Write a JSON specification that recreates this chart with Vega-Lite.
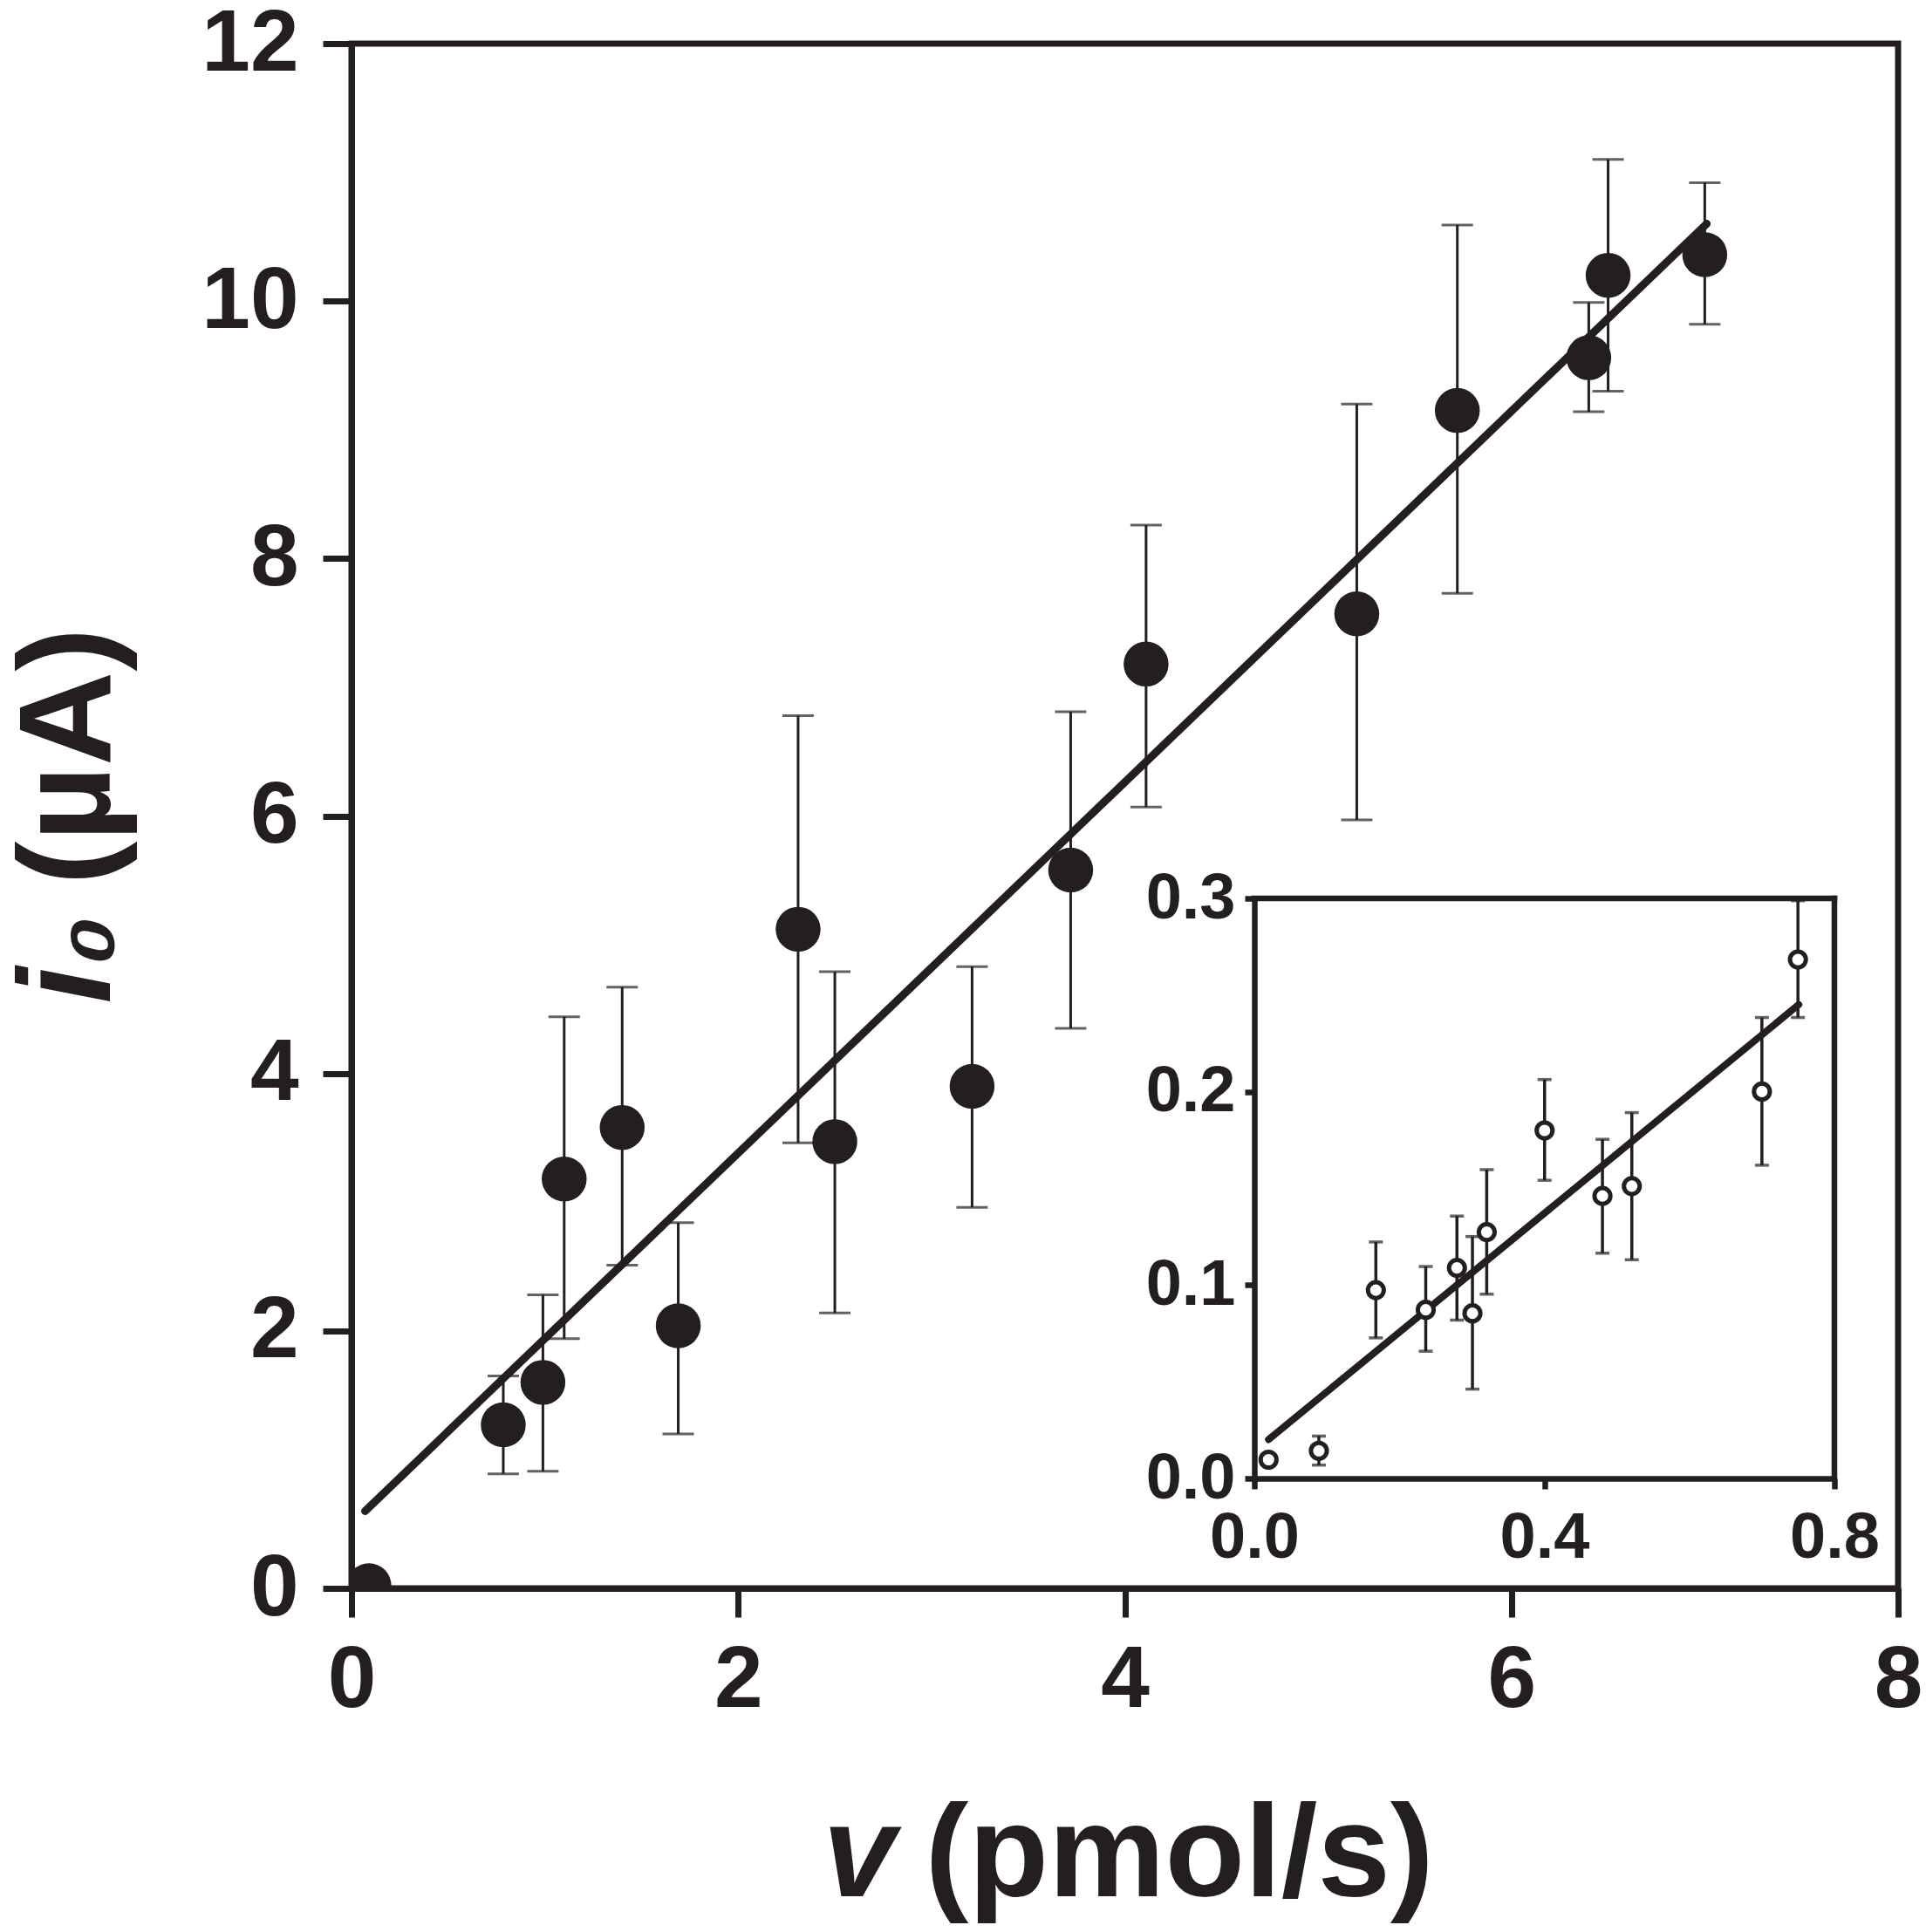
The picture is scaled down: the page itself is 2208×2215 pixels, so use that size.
{
  "$schema": "https://vega.github.io/schema/vega-lite/v6.json",
  "width": 1773,
  "height": 1771,
  "autosize": {"type": "none"},
  "padding": {"left": 403, "top": 50, "right": 32, "bottom": 394},
  "background": "white",
  "datasets": {
    "main": [
      {"v": 0.09, "i": 0.02, "lo": null, "hi": null},
      {"v": 0.785, "i": 1.27, "lo": 0.89, "hi": 1.65},
      {"v": 0.99, "i": 1.6, "lo": 0.91, "hi": 2.28},
      {"v": 1.1, "i": 3.18, "lo": 1.94, "hi": 4.44},
      {"v": 1.4, "i": 3.58, "lo": 2.51, "hi": 4.67},
      {"v": 1.69, "i": 2.04, "lo": 1.2, "hi": 2.84},
      {"v": 2.31, "i": 5.12, "lo": 3.46, "hi": 6.78},
      {"v": 2.5, "i": 3.47, "lo": 2.14, "hi": 4.79},
      {"v": 3.21, "i": 3.9, "lo": 2.96, "hi": 4.83},
      {"v": 3.72, "i": 5.58, "lo": 4.35, "hi": 6.81},
      {"v": 4.11, "i": 7.18, "lo": 6.07, "hi": 8.26},
      {"v": 5.2, "i": 7.57, "lo": 5.97, "hi": 9.2},
      {"v": 5.72, "i": 9.15, "lo": 7.73, "hi": 10.59},
      {"v": 6.4, "i": 9.56, "lo": 9.14, "hi": 9.99},
      {"v": 6.5, "i": 10.2, "lo": 9.3, "hi": 11.1},
      {"v": 7.0, "i": 10.36, "lo": 9.82, "hi": 10.92}
    ],
    "mainFit": [
      {"v": 0.07, "i": 0.6},
      {"v": 7.01, "i": 10.6}
    ],
    "inset": [
      {"v": 0.0196, "i": 0.0097, "lo": null, "hi": null},
      {"v": 0.089, "i": 0.0143, "lo": 0.0069, "hi": 0.0219},
      {"v": 0.1676, "i": 0.0974, "lo": 0.0727, "hi": 0.1223},
      {"v": 0.2364, "i": 0.0872, "lo": 0.0658, "hi": 0.1096},
      {"v": 0.2794, "i": 0.1089, "lo": 0.0819, "hi": 0.1357},
      {"v": 0.3008, "i": 0.0854, "lo": 0.0462, "hi": 0.1251},
      {"v": 0.3205, "i": 0.1274, "lo": 0.0953, "hi": 0.1597},
      {"v": 0.4003, "i": 0.18, "lo": 0.1542, "hi": 0.2063},
      {"v": 0.4801, "i": 0.1461, "lo": 0.1165, "hi": 0.1754},
      {"v": 0.5206, "i": 0.1512, "lo": 0.1131, "hi": 0.1892},
      {"v": 0.7, "i": 0.2001, "lo": 0.162, "hi": 0.2384},
      {"v": 0.7497, "i": 0.2684, "lo": 0.2384, "hi": 0.2988}
    ],
    "insetFit": [
      {"v": 0.0196, "i": 0.0201},
      {"v": 0.7509, "i": 0.2451}
    ]
  },
  "layer": [
    {
      "layer": [
        {
          "data": {"name": "main"},
          "transform": [{"filter": "datum.lo != null"}],
          "mark": {"type": "errorbar", "color": "#231f20", "thickness": 3, "ticks": {"size": 36, "thickness": 3, "color": "#231f20"}},
          "encoding": {
            "x": {"field": "v", "type": "quantitative", "title": "(pmol/s)"},
            "y": {"field": "lo", "type": "quantitative", "title": "(µA)"},
            "y2": {"field": "hi"}
          }
        },
        {
          "data": {"name": "mainFit"},
          "mark": {"type": "line", "color": "#231f20", "strokeWidth": 9, "strokeCap": "round"},
          "encoding": {
            "x": {"field": "v", "type": "quantitative", "title": "(pmol/s)"},
            "y": {"field": "i", "type": "quantitative", "title": "(µA)"}
          }
        },
        {
          "data": {"name": "main"},
          "mark": {"type": "circle", "size": 2650, "color": "#231f20", "opacity": 1, "clip": true},
          "encoding": {
            "x": {
              "field": "v", "type": "quantitative", "title": "(pmol/s)",
              "scale": {"domain": [0, 8], "nice": false},
              "axis": {
                "values": [0, 2, 4, 6, 8], "format": "d",
                "labelFontSize": 100, "titleFontSize": 150,
                "tickSize": 33, "tickWidth": 7, "domainWidth": 7,
                "labelPadding": 23, "labelFlush": false,
                "titleX": 657, "titleY": 352, "titleAlign": "left", "titleBaseline": "alphabetic"
              }
            },
            "y": {
              "field": "i", "type": "quantitative", "title": "(µA)",
              "scale": {"domain": [0, 12], "nice": false},
              "axis": {
                "values": [0, 2, 4, 6, 8, 10, 12], "format": "d",
                "labelFontSize": 100, "titleFontSize": 150,
                "tickSize": 33, "tickWidth": 7, "domainWidth": 7,
                "labelPadding": 28,
                "titleX": -278, "titleY": 964, "titleAngle": 270, "titleAlign": "left", "titleBaseline": "alphabetic"
              }
            }
          }
        }
      ]
    },
    {
      "layer": [
        {
          "data": {"name": "inset"},
          "transform": [{"filter": "datum.lo != null"}],
          "mark": {"type": "errorbar", "color": "#231f20", "thickness": 3.5, "ticks": {"size": 16, "thickness": 3.5, "color": "#231f20"}},
          "encoding": {
            "x": {"field": "v", "type": "quantitative", "title": "v"},
            "y": {"field": "lo", "type": "quantitative", "title": "i₀"},
            "y2": {"field": "hi"}
          }
        },
        {
          "data": {"name": "insetFit"},
          "mark": {"type": "line", "color": "#231f20", "strokeWidth": 8, "strokeCap": "round"},
          "encoding": {
            "x": {"field": "v", "type": "quantitative", "title": "v"},
            "y": {"field": "i", "type": "quantitative", "title": "i₀"}
          }
        },
        {
          "data": {"name": "inset"},
          "mark": {"type": "point", "shape": "circle", "size": 330, "fill": "white", "fillOpacity": 1, "stroke": "#231f20", "strokeWidth": 5, "opacity": 1},
          "encoding": {
            "x": {
              "field": "v", "type": "quantitative", "title": "v",
              "scale": {"domain": [0, 0.8], "nice": false, "range": [1035, 1700]},
              "axis": {
                "orient": "bottom", "offset": -126,
                "values": [0, 0.4, 0.8], "format": ".1f",
                "labelFontSize": 74, "tickSize": 12, "tickWidth": 6.5, "domainWidth": 6.5,
                "labelPadding": 20, "labelFlush": false,
                "titleFontSize": 150, "titleFontStyle": "italic",
                "titleX": 540, "titleY": 478, "titleAlign": "left", "titleBaseline": "alphabetic"
              }
            },
            "y": {
              "field": "i", "type": "quantitative", "title": "i₀",
              "scale": {"domain": [0, 0.3], "nice": false, "range": [1645, 980]},
              "axis": {
                "orient": "left", "offset": -1035,
                "values": [0, 0.1, 0.2, 0.3], "format": ".1f",
                "labelFontSize": 74, "tickSize": 11, "tickWidth": 6.5, "domainWidth": 6.5,
                "labelPadding": 11,
                "titleFontSize": 150, "titleFontStyle": "italic",
                "titleX": -1313, "titleY": 1100, "titleAngle": 270, "titleAlign": "left", "titleBaseline": "alphabetic"
              }
            }
          }
        },
        {
          "data": {"values": [{}]},
          "mark": {"type": "rule", "color": "#231f20", "strokeWidth": 6.5, "strokeCap": "square"},
          "encoding": {
            "x": {"datum": 0, "title": "v"},
            "x2": {"datum": 0.8},
            "y": {"datum": 0.3, "title": "i₀"}
          }
        },
        {
          "data": {"values": [{}]},
          "mark": {"type": "rule", "color": "#231f20", "strokeWidth": 6.5, "strokeCap": "square"},
          "encoding": {
            "x": {"datum": 0.8, "title": "v"},
            "y": {"datum": 0, "title": "i₀"},
            "y2": {"datum": 0.3}
          }
        }
      ]
    }
  ],
  "resolve": {"scale": {"x": "independent", "y": "independent"}},
  "config": {
    "font": "Liberation Sans",
    "view": {"stroke": "#231f20", "strokeWidth": 7},
    "axis": {
      "grid": false,
      "domainColor": "#231f20",
      "tickColor": "#231f20",
      "labelColor": "#231f20",
      "titleColor": "#231f20",
      "labelFont": "Liberation Sans",
      "titleFont": "Liberation Sans",
      "labelFontWeight": "bold",
      "titleFontWeight": "bold"
    }
  }
}
